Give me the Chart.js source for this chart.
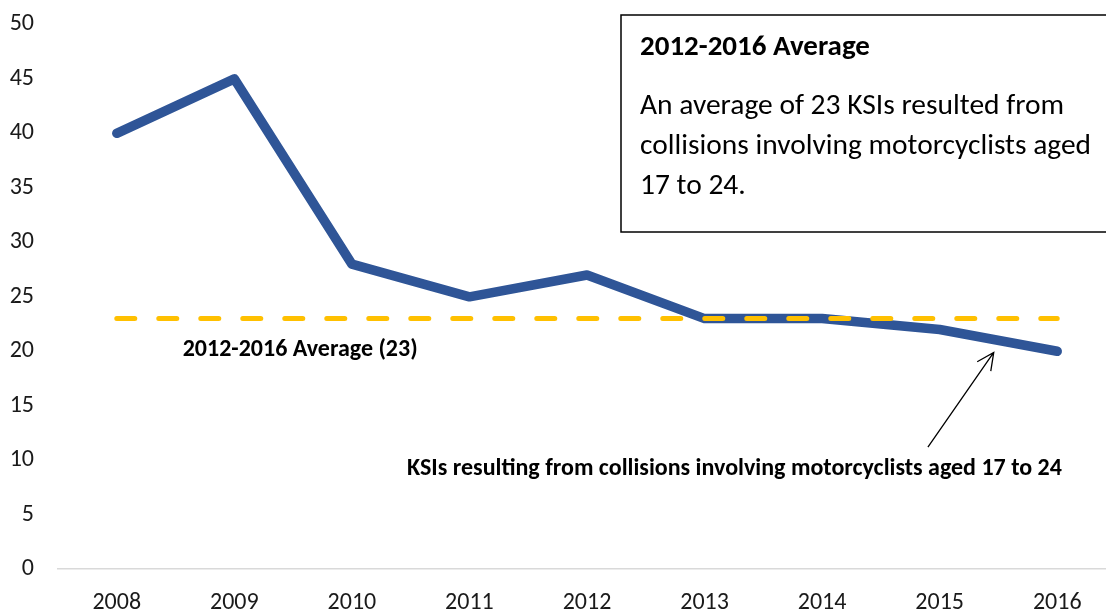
<!DOCTYPE html>
<html>
<head>
<meta charset="utf-8">
<script src="https://cdn.jsdelivr.net/npm/chart.js@4"></script>
<style>
  html, body { margin: 0; padding: 0; background: #fff; overflow: hidden; }
  #wrap { width: 1120px; height: 653px; position: relative; top: -14px; }
</style>
</head>
<body>
<div id="wrap"><canvas id="ksiChart"></canvas></div>
<script>
/*  Data  */
const years = ['2008', '2009', '2010', '2011', '2012', '2013', '2014', '2015', '2016'];
const ksiValues = [40, 45, 28, 25, 27, 23, 23, 22, 20];
const averageValues = [23, 23, 23, 23, 23, 23, 23, 23, 23];
const yMin = 0;
const yMax = 50;
const yStep = 5;

const averageLabel = '2012-2016 Average (23)';
const seriesLabel = 'KSIs resulting from collisions involving motorcyclists aged 17 to 24';
const boxTitle = '2012-2016 Average';
const boxLines = ['An average of 23 KSIs resulted from', 'collisions involving motorcyclists aged', '17 to 24.'];

const FONT = 'Carlito, "Open Sans", sans-serif';
const SHIFT = 14; // canvas is moved up by this much in the page

/*  Text box + callouts drawn on top of the chart  */
const annotations = {
    id: 'annotations',
    afterDraw(chart) {
        const { ctx, scales: { x, y } } = chart;
        ctx.save();
        ctx.fillStyle = '#000';

        // label under the average line
        ctx.font = 'bold 24px ' + FONT;
        ctx.textAlign = 'center';
        ctx.textBaseline = 'middle';
        ctx.fillText(averageLabel, x.getPixelForValue(1.56), y.getPixelForValue(20.1), 236);

        // series callout + arrow
        ctx.textAlign = 'right';
        ctx.fillText(seriesLabel, x.getPixelForValue(8.04), y.getPixelForValue(9.2), 658);

        const x0 = x.getPixelForValue(6.9), y0 = y.getPixelForValue(11.2);
        const x1 = x.getPixelForValue(7.46), y1 = y.getPixelForValue(19.9);
        const ang = Math.atan2(y1 - y0, x1 - x0);
        ctx.strokeStyle = '#000';
        ctx.lineWidth = 1.3;
        ctx.beginPath();
        ctx.moveTo(x0, y0);
        ctx.lineTo(x1, y1);
        ctx.moveTo(x1 - 19 * Math.cos(ang - 0.45), y1 - 19 * Math.sin(ang - 0.45));
        ctx.lineTo(x1, y1);
        ctx.lineTo(x1 - 19 * Math.cos(ang + 0.45), y1 - 19 * Math.sin(ang + 0.45));
        ctx.stroke();

        // info box
        ctx.translate(0, SHIFT);
        ctx.fillStyle = '#fff';
        ctx.fillRect(621, 15, 520, 217);
        ctx.strokeStyle = '#000';
        ctx.lineWidth = 1.5;
        ctx.strokeRect(621, 15, 520, 217);

        ctx.fillStyle = '#000';
        ctx.textAlign = 'left';
        ctx.textBaseline = 'alphabetic';
        ctx.font = 'bold 29px ' + FONT;
        ctx.fillText(boxTitle, 640, 55, 233);
        ctx.font = '29.5px ' + FONT;
        ctx.fillText(boxLines[0], 640, 114, 426);
        ctx.fillText(boxLines[1], 640, 154, 451);
        ctx.fillText(boxLines[2], 640, 194, 110);
        ctx.restore();
    }
};

new Chart(document.getElementById('ksiChart'), {
    type: 'line',
    data: {
        labels: years,
        datasets: [
            {
                label: 'Average',
                data: averageValues,
                borderColor: '#FFC000',
                borderWidth: 5,
                borderDash: [18, 24],
                borderCapStyle: 'round',
                pointRadius: 0,
                fill: false,
                tension: 0
            },
            {
                label: 'KSIs',
                data: ksiValues,
                borderColor: '#2F5597',
                borderWidth: 9.5,
                borderCapStyle: 'round',
                borderJoinStyle: 'round',
                pointRadius: 0,
                fill: false,
                tension: 0
            }
        ]
    },
    options: {
        responsive: true,
        maintainAspectRatio: false,
        animation: false,
        layout: { padding: { top: 14, right: 4, bottom: 3, left: 0 } },
        plugins: {
            legend: { display: false },
            tooltip: { enabled: false }
        },
        scales: {
            x: {
                offset: true,
                grid: { display: false, drawTicks: false },
                border: { display: true, color: '#D9D9D9', width: 1.5 },
                ticks: {
                    color: '#1a1a1a',
                    padding: 19,
                    maxRotation: 0,
                    font: { family: FONT, size: 24 }
                }
            },
            y: {
                min: yMin,
                max: yMax,
                grid: { display: false, drawTicks: false },
                border: { display: false },
                ticks: {
                    stepSize: yStep,
                    color: '#1a1a1a',
                    padding: 24,
                    font: { family: FONT, size: 24 }
                },
                afterFit(scale) { scale.width = 58; }
            }
        }
    },
    plugins: [annotations]
});
</script>
</body>
</html>
